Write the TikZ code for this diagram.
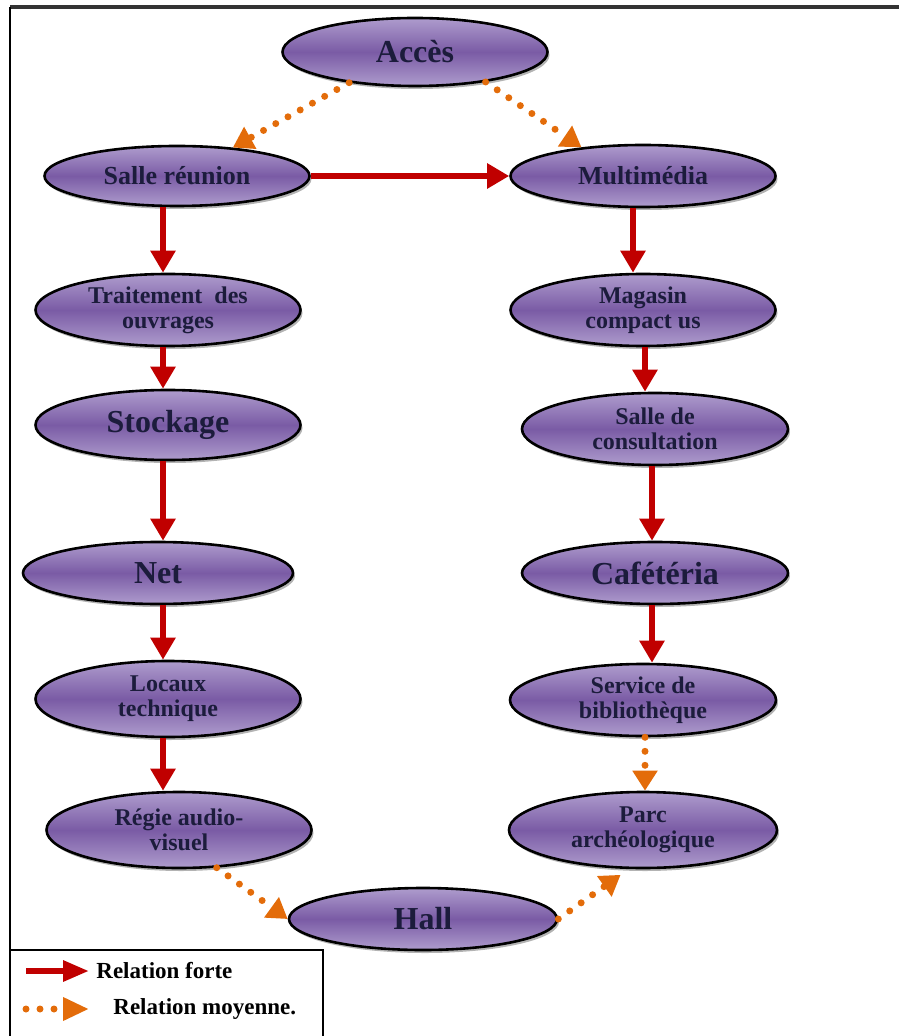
\documentclass[tikz,border=0pt]{standalone}
\usepackage{fontspec}
\setmainfont{Liberation Serif}
\usetikzlibrary{arrows.meta,positioning,shapes.geometric,shadows}
\definecolor{violetclair}{HTML}{AE9CCD}
\definecolor{violetfonce}{HTML}{7A5BA5}
\definecolor{rougefort}{HTML}{C00000}
\definecolor{orangemoy}{HTML}{E36C0A}
\definecolor{encre}{HTML}{1C1C3C}

\tikzset{
  espace/.style={ellipse, draw=black, line width=1.3pt, inner sep=0pt,
    top color=violetclair, bottom color=violetclair, middle color=violetfonce,
    drop shadow={shadow xshift=1pt, shadow yshift=-1.5pt, opacity=0.6},
    minimum width=132.5pt, minimum height=36pt, align=center, text=encre,
    font=\bfseries\fontsize{12}{12.5}\selectfont},
  grand/.style={font=\bfseries\fontsize{16}{18}\selectfont},
  moyen/.style={font=\bfseries\fontsize{13}{14}\selectfont},
  forte/.style={draw=rougefort, line width=3pt, -{Triangle[width=12pt,length=11pt]}},
  moyenne/.style={draw=orangemoy, line width=3.5pt, line cap=round,
    dash pattern=on 0pt off 7pt, -{Triangle[width=12pt,length=10pt]}},
  legende/.style={inner sep=0pt, anchor=west, font=\bfseries\fontsize{11.5}{13}\selectfont}
}

\begin{document}
\begin{tikzpicture}[x=0.5pt, y=-0.5pt]
  \useasboundingbox (0,0) rectangle (898,1036);
  % cadre
  \draw[line width=2pt, black!80] (10,7) -- (910,7);
  \draw[line width=1.2pt] (10,7) -- (10,1045);

  % espaces
  \node[espace, grand, minimum height=34pt] (acces) at (415,52) {Accès};
  \node[espace, moyen, minimum height=30pt] (salle) at (177,176) {Salle réunion};
  \node[espace, moyen, minimum height=31pt] (multi) at (643,176) {Multimédia};
  \node[espace] (trait) at (168,310) {Traitement\ \ des\\ouvrages};
  \node[espace] (magasin) at (643,310) {Magasin\\compact us};
  \node[espace, grand, minimum height=35pt] (stock) at (168,425) {Stockage};
  \node[espace, minimum width=133pt] (consult) at (655,429) {Salle de\\consultation};
  \node[espace, grand, minimum height=31pt, minimum width=135pt] (net) at (158,573) {Net};
  \node[espace, grand, minimum height=31pt, minimum width=133pt] (cafe) at (655,573) {Cafétéria};
  \node[espace, minimum height=38pt] (locaux) at (168,699) {Locaux\\technique};
  \node[espace, minimum width=133pt] (service) at (643,700) {Service de\\bibliothèque};
  \node[espace, minimum height=38pt] (regie) at (179,830) {Régie audio-\\visuel};
  \node[espace, minimum height=38pt, minimum width=134pt] (parc) at (643,830) {Parc\\archéologique};
  \node[espace, grand, minimum height=31pt, minimum width=134pt] (hall) at (423,919) {Hall};

  % relations fortes
  \draw[forte] (salle.east) -- (multi.west);
  \foreach \a/\b/\dx in {salle/trait/-7, trait/stock/-2.5, stock/net/-2.5,
      net/locaux/2.5, locaux/regie/-2.5, multi/magasin/-5, magasin/consult/1,
      consult/cafe/-1.5, cafe/service/-1.5}
    \draw[forte] ([xshift=\dx pt]\a.south) -- ([xshift=\dx pt]\a.south |- \b.north);

  % relations moyennes
  \draw[moyenne] (acces.205) -- (salle.27);
  \draw[moyenne] (acces.337) -- (multi.155);
  \draw[moyenne] ([xshift=1pt]service.south) -- ([xshift=1pt]parc.north);
  \draw[moyenne] (regie.315) -- (hall.west);
  \draw[moyenne, shorten >=5pt] (hall.east) -- (parc.250);

  % legende
  \draw[line width=0.8pt] (10,950) rectangle (323,1045);
  \coordinate (f0) at (26,971);
  \coordinate (f1) at (89,971);
  \draw[forte, -{Triangle[width=10pt,length=13pt]}] (f0) -- (f1);
  \node[legende, right=3.5pt of f1] (tforte) {Relation forte};
  \coordinate (m0) at (26,1009);
  \coordinate (m1) at (89,1009);
  \draw[moyenne, -{Triangle[width=11pt,length=13pt]}] (m0) -- (m1);
  \node[legende, right=12pt of m1] (tmoyenne) {Relation moyenne.};
\end{tikzpicture}
\end{document}
